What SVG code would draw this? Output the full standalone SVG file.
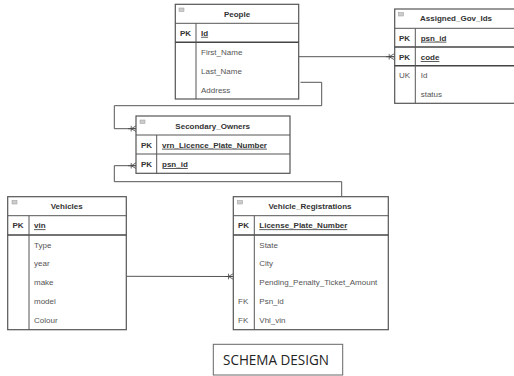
<svg xmlns="http://www.w3.org/2000/svg" width="514" height="376" viewBox="0 0 514 376">
<style>
.tb{fill:#fff;stroke:#555;stroke-width:1.2}
.ln{stroke:#555;stroke-width:1;fill:none}
.lk{stroke:#444;stroke-width:1.4;fill:none}
.ic{fill:#ccc;stroke:#999;stroke-width:0.5}
text{font-family:"Liberation Sans",Arial,sans-serif;font-size:8px;fill:#555}
.ti{font-weight:bold;fill:#333;text-anchor:middle}
.pk{font-weight:bold;fill:#333}
.pn{font-weight:bold;fill:#333;text-decoration:underline}
.cn{stroke:#555;stroke-width:1;fill:none}
</style>
<defs>
<marker id="crow" viewBox="0 0 10 10" refX="10" refY="5" markerWidth="8" markerHeight="8" markerUnits="userSpaceOnUse" orient="auto">
<path d="M0,5 L10,5 M4,5 L10,1.5 M4,5 L10,8.5 M4,1.5 L4,8.5" stroke="#444" stroke-width="1" fill="none"/>
</marker>
</defs>

<g id="connectors">
<path class="cn" d="M299,56.7 L394,56.7" marker-end="url(#crow)"/>
<path class="cn" d="M300.5,82.3 L321.7,82.3 L321.7,105.7 L114.3,105.7 L114.3,128.7 L136,128.7" marker-end="url(#crow)"/>
<path class="cn" d="M341.7,196.7 L341.7,181.7 L114.3,181.7 L114.3,165.7 L136,165.7" marker-end="url(#crow)"/>
<path class="cn" d="M126.5,276.3 L233.3,276.5" marker-end="url(#crow)"/>
</g>

<g id="People">
<rect class="tb" x="175.3" y="4.3" width="123.4" height="94.7"/>
<rect class="ic" x="179" y="8" width="5" height="3.5"/>
<text class="ti" x="237" y="17">People</text>
<line class="ln" x1="175.3" y1="23.3" x2="298.7" y2="23.3"/>
<line class="lk" x1="175.3" y1="42.3" x2="298.7" y2="42.3"/>
<line class="ln" x1="196" y1="23.3" x2="196" y2="99"/>
<text class="pk" x="180" y="35.8">PK</text>
<text class="pn" x="201" y="35.8">Id</text>
<text x="201" y="55">First_Name</text>
<text x="201" y="73.7">Last_Name</text>
<text x="201" y="92.7">Address</text>
</g>

<g id="Assigned_Gov_Ids">
<rect class="tb" x="394.7" y="9" width="122" height="94.3"/>
<rect class="ic" x="398.5" y="12.5" width="5" height="3.5"/>
<text class="ti" x="456" y="21.3">Assigned_Gov_Ids</text>
<line class="ln" x1="394.7" y1="28.3" x2="514" y2="28.3"/>
<line class="lk" x1="394.7" y1="47" x2="514" y2="47"/>
<line class="lk" x1="394.7" y1="65.7" x2="514" y2="65.7"/>
<line class="ln" x1="415.3" y1="28.3" x2="415.3" y2="103.3"/>
<text class="pk" x="399" y="40.7">PK</text>
<text class="pn" x="420.7" y="40.7">psn_id</text>
<text class="pk" x="399" y="60">PK</text>
<text class="pn" x="420.7" y="60">code</text>
<text x="399" y="78.3">UK</text>
<text x="420.7" y="78.3">Id</text>
<text x="420.7" y="97.3">status</text>
</g>

<g id="Secondary_Owners">
<rect class="tb" x="136" y="116" width="154" height="57.3"/>
<rect class="ic" x="140" y="120" width="5" height="3.5"/>
<text class="ti" x="212.7" y="129">Secondary_Owners</text>
<line class="ln" x1="136" y1="135" x2="290" y2="135"/>
<line class="ln" x1="136" y1="154" x2="290" y2="154"/>
<line class="ln" x1="156.7" y1="135" x2="156.7" y2="173.3"/>
<text class="pk" x="141" y="147.7">PK</text>
<text class="pn" x="162" y="147.7">vrn_Licence_Plate_Number</text>
<text class="pk" x="141" y="167">PK</text>
<text class="pn" x="162" y="167">psn_id</text>
</g>

<g id="Vehicles">
<rect class="tb" x="7.7" y="196.7" width="118.6" height="133"/>
<rect class="ic" x="12" y="200.5" width="5" height="3.5"/>
<text class="ti" x="66.7" y="209.3">Vehicles</text>
<line class="ln" x1="7.7" y1="215.7" x2="126.3" y2="215.7"/>
<line class="lk" x1="7.7" y1="235" x2="126.3" y2="235"/>
<line class="ln" x1="29" y1="215.7" x2="29" y2="329.7"/>
<text class="pk" x="12.5" y="228.3">PK</text>
<text class="pn" x="34" y="228.3">vin</text>
<text x="34" y="247.7">Type</text>
<text x="34" y="266.3">year</text>
<text x="34" y="285.3">make</text>
<text x="34" y="304">model</text>
<text x="34" y="323">Colour</text>
</g>

<g id="Vehicle_Registrations">
<rect class="tb" x="233.3" y="196.7" width="155" height="133"/>
<rect class="ic" x="237.5" y="200.5" width="5" height="3.5"/>
<text class="ti" x="310" y="209.3">Vehicle_Registrations</text>
<line class="ln" x1="233.3" y1="215.7" x2="388.3" y2="215.7"/>
<line class="lk" x1="233.3" y1="235" x2="388.3" y2="235"/>
<line class="ln" x1="254.3" y1="215.7" x2="254.3" y2="329.7"/>
<text class="pk" x="238" y="228.3">PK</text>
<text class="pn" x="259.3" y="228.3">License_Plate_Number</text>
<text x="259.3" y="247.7">State</text>
<text x="259.3" y="266.3">City</text>
<text x="259.3" y="285.3">Pending_Penalty_Ticket_Amount</text>
<text x="238" y="304">FK</text>
<text x="259.3" y="304">Psn_id</text>
<text x="238" y="323">FK</text>
<text x="259.3" y="323">Vhl_vin</text>
</g>

<g id="Schema_Design">
<rect x="213.3" y="344.3" width="129.4" height="30.7" fill="#fff" stroke="#666" stroke-width="1"/>
<text x="276" y="365" text-anchor="middle" style="font-family:'Open Sans','Liberation Sans',sans-serif;font-size:14px;fill:#222" textLength="106" lengthAdjust="spacingAndGlyphs">SCHEMA DESIGN</text>
</g>
</svg>
